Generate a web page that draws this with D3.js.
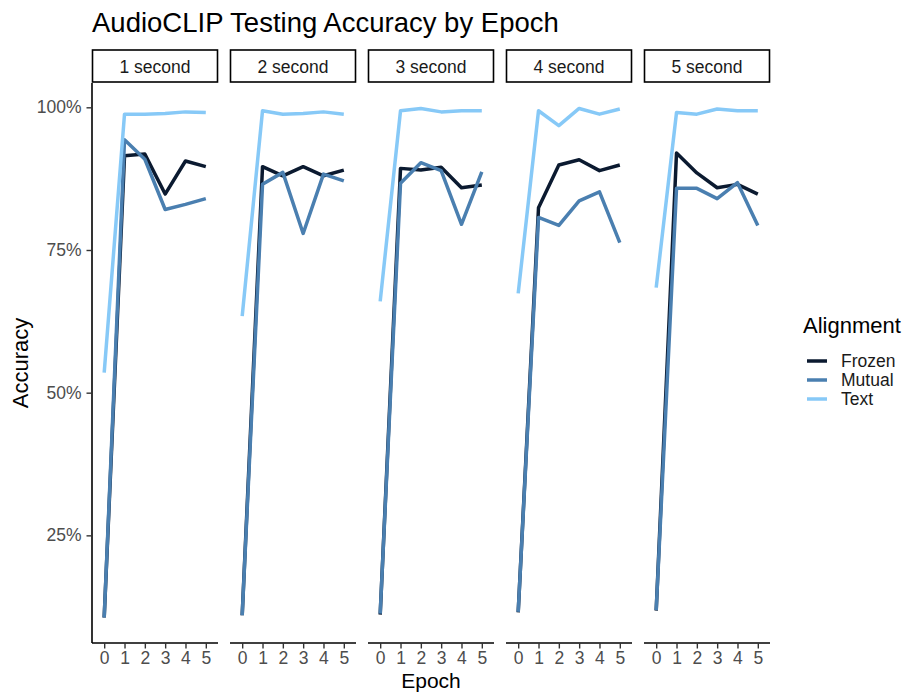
<!DOCTYPE html>
<html>
<head>
<meta charset="utf-8">
<script src="https://d3js.org/d3.v7.min.js"></script>
<style>
  body { margin: 0; background: #fff; }
  text { font-family: "Liberation Sans", Arial, Helvetica, sans-serif; }
</style>
</head>
<body>
<div id="chart"></div>
<script>

// data
var epochs = [0, 1, 2, 3, 4, 5];
var panels = ["1 second", "2 second", "3 second", "4 second", "5 second"];
var alignments = ["Frozen", "Mutual", "Text"];
var colors = ["#0b1a30", "#4a7fb0", "#87c9f7"];

var frozen = [
  [0.106, 0.915, 0.918, 0.848, 0.906, 0.896],
  [0.110, 0.896, 0.880, 0.896, 0.880, 0.890],
  [0.111, 0.893, 0.890, 0.895, 0.859, 0.864],
  [0.115, 0.824, 0.899, 0.908, 0.889, 0.899],
  [0.118, 0.920, 0.885, 0.859, 0.865, 0.848]
];
var mutual = [
  [0.106, 0.943, 0.909, 0.821, 0.830, 0.840],
  [0.110, 0.865, 0.886, 0.779, 0.883, 0.871],
  [0.113, 0.867, 0.903, 0.889, 0.795, 0.887],
  [0.116, 0.807, 0.793, 0.836, 0.852, 0.763],
  [0.119, 0.858, 0.858, 0.840, 0.868, 0.793]
];
var text = [
  [0.535, 0.988, 0.988, 0.989, 0.992, 0.991],
  [0.634, 0.994, 0.988, 0.989, 0.992, 0.988],
  [0.660, 0.994, 0.998, 0.992, 0.994, 0.994],
  [0.674, 0.994, 0.968, 0.998, 0.988, 0.997],
  [0.684, 0.991, 0.988, 0.997, 0.994, 0.994]
];
var series = [frozen, mutual, text];
var yTicks = [0.25, 0.5, 0.75, 1.0];

var W = 909, H = 695;
var plotLeft = 92, plotTop = 83, plotBottom = 643;
var panelW = 126, gap = 12, stripH = 33;

var svg = d3.select("#chart").append("svg")
  .attr("width", W)
  .attr("height", H);

// ggplot style: continuous y expanded 5%, discrete x padded 0.6
var all = [].concat(...series.map(function(s) { return [].concat(...s); }));
var ext = d3.extent(all), pad = (ext[1] - ext[0]) * 0.05;
var y = d3.scaleLinear()
  .domain([ext[0] - pad, ext[1] + pad])
  .range([plotBottom, plotTop]);

var x = d3.scaleLinear()
  .domain([-0.6, 5.6])
  .range([0, panelW]);

var color = d3.scaleOrdinal().domain(alignments).range(colors);

svg.append("text")
  .attr("x", plotLeft)
  .attr("y", 32)
  .style("font-size", "27.5px")
  .style("fill", "#000")
  .text("AudioCLIP Testing Accuracy by Epoch");

var line = d3.line()
  .x(function(d, i) { return x(epochs[i]); })
  .y(function(d) { return y(d); });

panels.forEach(function(name, p) {
  var g = svg.append("g")
    .attr("transform", "translate(" + (plotLeft + p * (panelW + gap)) + ",0)");

  // strip
  g.append("rect")
    .attr("x", 0.5)
    .attr("y", plotTop - stripH)
    .attr("width", panelW - 1)
    .attr("height", stripH - 1)
    .attr("fill", "#fff")
    .attr("stroke", "#000")
    .attr("stroke-width", 1.6);
  g.append("text")
    .attr("x", panelW / 2)
    .attr("y", plotTop - stripH / 2)
    .attr("dy", "0.35em")
    .attr("text-anchor", "middle")
    .style("font-size", "17.5px")
    .style("fill", "#1a1a1a")
    .text(name);

  // x axis
  var xa = g.append("g")
    .attr("transform", "translate(0," + plotBottom + ")")
    .call(d3.axisBottom(x).tickValues(epochs).tickFormat(d3.format("d")).tickSizeOuter(0).tickSize(5.5).tickPadding(3));
  xa.select(".domain").attr("stroke", "#000").attr("stroke-width", 1.6).attr("d", "M0,0H" + panelW);
  xa.selectAll(".tick line").attr("stroke", "#333").attr("stroke-width", 1.4);
  xa.selectAll(".tick text").style("font-size", "17.5px").style("fill", "#4d4d4d")
    .style("font-family", "'Liberation Sans', Arial, sans-serif");

  // lines
  series.forEach(function(s, k) {
    g.append("path")
      .datum(s[p])
      .attr("fill", "none")
      .attr("stroke", color(alignments[k]))
      .attr("stroke-width", 3.5)
      .attr("stroke-linejoin", "round")
      .attr("d", line);
  });
});

// y axis
var ya = svg.append("g")
  .attr("transform", "translate(" + plotLeft + ",0)")
  .call(d3.axisLeft(y).tickValues(yTicks).tickFormat(d3.format(".0%")).tickSizeOuter(0).tickSize(5.5).tickPadding(5));
ya.select(".domain").attr("stroke", "#000").attr("stroke-width", 1.6).attr("d", "M0," + plotTop + "V" + plotBottom);
ya.selectAll(".tick line").attr("stroke", "#333").attr("stroke-width", 1.4);
ya.selectAll(".tick text").style("font-size", "17.5px").style("fill", "#4d4d4d")
  .style("font-family", "'Liberation Sans', Arial, sans-serif");

// axis titles
svg.append("text")
  .attr("x", plotLeft + (panels.length * panelW + (panels.length - 1) * gap) / 2)
  .attr("y", 688)
  .attr("text-anchor", "middle")
  .style("font-size", "21px")
  .text("Epoch");

svg.append("text")
  .attr("transform", "translate(28," + ((plotTop + plotBottom) / 2) + ") rotate(-90)")
  .attr("text-anchor", "middle")
  .style("font-size", "22px")
  .text("Accuracy");

// legend
var lg = svg.append("g").attr("transform", "translate(803,0)");
lg.append("text")
  .attr("x", 0)
  .attr("y", 333)
  .style("font-size", "22px")
  .text("Alignment");
alignments.forEach(function(a, i) {
  var ly = 361 + i * 19;
  lg.append("line")
    .attr("x1", 4).attr("x2", 24)
    .attr("y1", ly).attr("y2", ly)
    .attr("stroke", color(a))
    .attr("stroke-width", 3.5);
  lg.append("text")
    .attr("x", 38)
    .attr("y", ly)
    .attr("dy", "0.35em")
    .style("font-size", "17.5px")
    .style("fill", "#1a1a1a")
    .text(a);
});
</script>
</body>
</html>
